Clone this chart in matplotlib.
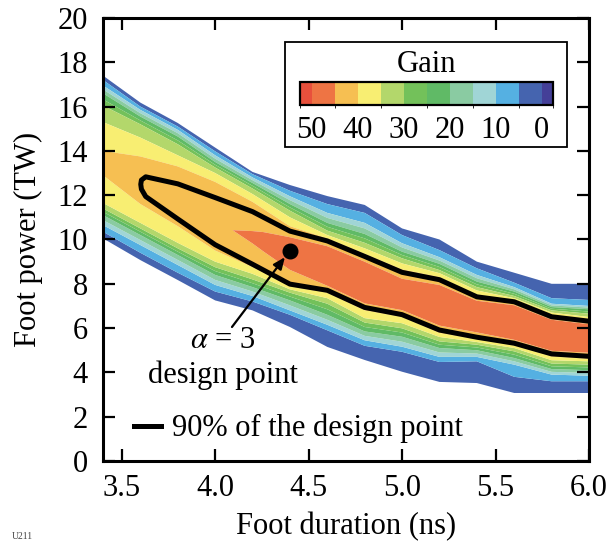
import numpy as np
import matplotlib
matplotlib.use("Agg")
import matplotlib.pyplot as plt
import matplotlib as mpl
from matplotlib.colors import ListedColormap, BoundaryNorm
from matplotlib.lines import Line2D
from matplotlib.patches import Rectangle

plt.rcParams["font.family"] = ["Liberation Serif", "DejaVu Serif"]
plt.rcParams["mathtext.fontset"] = "stix"

# Foot duration (ns) of each scan column
foot_duration = [3.4, 3.6, 3.8, 4.0, 4.2, 4.4, 4.6, 4.8, 5.0, 5.2, 5.4, 5.6, 5.8, 6.0]

# Gain levels crossed on each flank of the high-gain ridge
flank_gain = [0, 5, 10, 20, 30, 35, 40]

# Foot power (TW) at which the gain reaches each flank level, below the ridge
power_lower = [
    [10.05, 9.07, 8.17, 7.25, 6.80, 6.05, 5.15, 4.56, 4.03, 3.57, 3.52, 3.07, 3.07, 3.07],
    [10.35, 9.40, 8.50, 7.65, 7.20, 6.60, 5.90, 5.20, 4.93, 4.47, 4.50, 3.80, 3.60, 3.60],
    [10.65, 9.75, 8.85, 7.95, 7.45, 6.80, 6.15, 5.45, 5.16, 4.70, 4.70, 4.35, 3.90, 3.85],
    [11.10, 10.20, 9.30, 8.40, 7.85, 7.25, 6.60, 5.85, 5.61, 5.10, 5.00, 4.65, 4.15, 4.10],
    [11.40, 10.50, 9.60, 8.75, 8.20, 7.60, 7.10, 6.25, 5.99, 5.40, 5.25, 4.95, 4.40, 4.35],
    [11.65, 10.75, 9.85, 9.00, 8.45, 7.75, 7.35, 6.45, 6.22, 5.60, 5.37, 5.10, 4.55, 4.50],
    [12.90, 11.60, 10.60, 9.50, 8.75, 7.88, 7.60, 6.80, 6.51, 5.78, 5.50, 5.22, 4.72, 4.62],
]

# Foot power (TW) at which the gain falls back to each flank level, above the ridge
# (rows ordered 40, 35, 30, 20, 10, 5, 0)
power_upper = [
    [14.00, 13.75, 13.30, 12.60, 11.70, 10.60, 10.05, 9.35, 8.65, 8.30, 7.50, 7.25, 6.60, 6.40],
    [15.30, 14.60, 13.80, 13.00, 12.05, 11.00, 10.20, 9.60, 8.92, 8.48, 7.70, 7.35, 6.70, 6.50],
    [16.05, 15.20, 14.30, 13.25, 12.30, 11.30, 10.40, 9.85, 9.15, 8.62, 7.85, 7.45, 6.80, 6.65],
    [16.60, 15.55, 14.65, 13.50, 12.55, 11.60, 10.75, 10.25, 9.45, 8.90, 8.10, 7.65, 6.95, 6.85],
    [16.95, 15.85, 14.95, 13.80, 12.80, 11.95, 11.20, 10.75, 9.83, 9.20, 8.40, 7.85, 7.10, 7.00],
    [17.20, 16.00, 15.10, 13.98, 12.95, 12.20, 11.60, 11.20, 10.20, 9.52, 8.70, 8.05, 7.35, 7.27],
    [17.40, 16.18, 15.26, 14.15, 13.05, 12.46, 11.96, 11.56, 10.50, 10.00, 9.00, 8.50, 8.00, 8.00],
]

# Ridge samples: foot power (TW) and gain across the top of the ridge
# (rows: outer lower, inner lower, crest, inner upper, outer upper)
ridge_power = [
    [13.05, 12.10, 10.97, 9.80, 8.90, 8.00, 7.72, 6.95, 6.62, 5.93, 5.60, 5.33, 4.85, 4.74],
    [13.25, 12.30, 11.30, 10.20, 9.75, 8.76, 7.95, 7.15, 6.85, 6.15, 5.85, 5.50, 5.00, 4.92],
    [13.45, 12.50, 11.70, 10.70, 10.10, 9.50, 8.80, 8.10, 7.50, 7.10, 6.55, 6.30, 5.70, 5.50],
    [13.65, 12.70, 12.10, 11.30, 10.45, 10.05, 9.65, 8.95, 8.17, 7.90, 7.20, 7.00, 6.35, 6.15],
    [13.85, 12.90, 12.41, 11.80, 11.20, 10.35, 9.92, 9.22, 8.50, 8.17, 7.40, 7.18, 6.50, 6.30],
]
ridge_gain = [
    [40.8, 42.25, 42.6, 42.6, 42.6, 42.6, 42.6, 42.6, 42.6, 42.6, 42.6, 42.6, 42.6, 42.6],
    [41.2, 42.28, 43.0, 43.7, 44.8, 45.5, 45.5, 45.5, 45.5, 45.5, 45.5, 45.5, 45.5, 45.5],
    [41.5, 42.29, 43.3, 44.3, 45.8, 47.0, 47.5, 48.0, 48.0, 48.0, 48.0, 48.0, 48.0, 48.0],
    [41.2, 42.28, 43.0, 43.7, 44.8, 45.5, 45.5, 45.5, 45.5, 45.5, 45.5, 45.5, 45.5, 45.5],
    [40.8, 42.25, 42.6, 42.6, 42.6, 42.6, 42.6, 42.6, 42.6, 42.6, 42.6, 42.6, 42.6, 42.6],
]

# Design point (alpha = 3)
design_duration = 4.4
design_power = 9.5
design_gain = 47.0

# Gain colour bands, from below 0 up to above 50
gain_bounds = [-2.5, 0, 5, 10, 15, 20, 25, 30, 35, 40, 45, 50, 52.5]
band_colors = ["#443F98", "#4564AF", "#55B0E2", "#A0D5D6", "#8ACBA2", "#60BA66",
               "#73C15A", "#B3D76B", "#F8EE72", "#F6BF52", "#EE7444", "#E8503C"]
gain_ticks = [50, 40, 30, 20, 10, 0]

# ---- assemble the curvilinear (duration, power) grid -----------------------
ncol = len(foot_duration)
P = np.vstack([np.array(power_lower), np.array(ridge_power), np.array(power_upper)])
G = np.vstack([
    np.repeat(np.array(flank_gain, float)[:, None], ncol, axis=1),
    np.array(ridge_gain),
    np.repeat(np.array(flank_gain[::-1], float)[:, None], ncol, axis=1),
])
D = np.tile(np.array(foot_duration), (P.shape[0], 1))

fig = plt.figure(figsize=(6.08, 5.42), dpi=100)
ax = fig.add_axes([103 / 608, 1 - 461 / 542, 486 / 608, 443 / 542])

fill_levels = gain_bounds[1:-1]
ax.contourf(D, P, G, levels=fill_levels, colors=band_colors[1:-1], antialiased=True)
cs = ax.contour(D, P, G, levels=[0.9 * design_gain], colors="black", linewidths=3.6)
cs.set_joinstyle("round")

ax.plot([design_duration], [design_power], "o", color="black", markersize=10.5, zorder=5)

# annotation of the design point
ax.text(4.04, 5.45, r"$\alpha$ = 3", ha="center", va="center", fontsize=22)
ax.text(4.04, 3.88, "design point", ha="center", va="center", fontsize=22)
ax.annotate("", xy=(design_duration, design_power), xytext=(4.09, 6.05),
            arrowprops=dict(arrowstyle="-|>,head_length=0.7,head_width=0.3",
                            color="black", lw=1.6, shrinkA=0, shrinkB=6),
            zorder=6)

ax.legend(handles=[Line2D([], [], color="black", lw=3.6)],
          labels=["90% of the design point"], loc="lower left",
          bbox_to_anchor=(0.022, -0.005), frameon=False, fontsize=22,
          handlelength=0.9, handletextpad=0.35, borderaxespad=0.25)

ax.set_xlim(3.4, 6.0)
ax.set_ylim(0, 20)
ax.set_xticks([3.5, 4.0, 4.5, 5.0, 5.5, 6.0])
ax.set_xticklabels(["3.5", "4.0", "4.5", "5.0", "5.5", "6.0"])
ax.set_yticks(range(0, 21, 2))
ax.tick_params(direction="in", top=True, right=True, length=8.5, width=1.6,
               labelsize=22)
ax.tick_params(axis="x", pad=9)
ax.tick_params(axis="y", pad=11)
for sp in ax.spines.values():
    sp.set_linewidth(2.2)
ax.set_xlabel("Foot duration (ns)", fontsize=22, labelpad=7)
ax.set_ylabel("Foot power (TW)", fontsize=22, labelpad=10)

# ---- gain colour key --------------------------------------------------------
fig.patches.append(Rectangle((285 / 608, 1 - 147 / 542), 282 / 608, 105 / 542,
                             transform=fig.transFigure, facecolor="white",
                             edgecolor="black", lw=1.3, zorder=10))
fig.text(427 / 608, 1 - 65 / 542, "Gain", ha="center", va="center", fontsize=22, zorder=11)
cax = fig.add_axes([300 / 608, 1 - 105 / 542, 253 / 608, 23 / 542], zorder=11)
cmap = ListedColormap(band_colors)
norm = BoundaryNorm(gain_bounds, cmap.N)
cb = mpl.colorbar.ColorbarBase(cax, cmap=cmap, norm=norm, orientation="horizontal",
                               ticks=gain_ticks, drawedges=True, spacing="proportional")
cb.outline.set_linewidth(1.6)
cb.dividers.set_linewidth(1.6)
cb.dividers.set_color("black")
cax.invert_xaxis()
cax.tick_params(length=0, labelsize=22, pad=8)
cax.set_xticklabels([str(t) for t in gain_ticks])

fig.text(12 / 608, 1 - 532 / 542, "U211", fontsize=7, color="#444444", va="top")

fig.savefig("out.png", dpi=100)
